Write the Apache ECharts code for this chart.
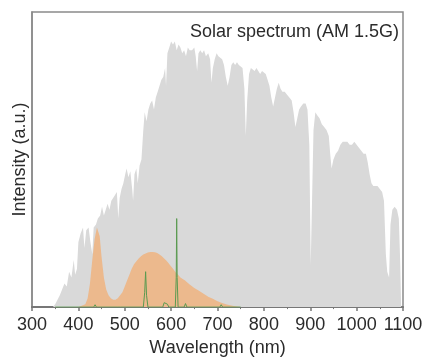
<!DOCTYPE html>
<html>
<head>
<meta charset="utf-8">
<script src="https://cdn.jsdelivr.net/npm/echarts@6/dist/echarts.min.js"></script>
<style>
  html, body { margin: 0; padding: 0; background: #fff; }
  #chart { width: 426px; height: 362px; }
</style>
</head>
<body>
<div id="chart"></div>
<script>
// x axis ticks
const xMin = 300;
const xMax = 1100;
const xStep = 100;

// AM 1.5G solar spectrum (nm, a.u.)
const solarWl = [
  300, 345, 350, 360, 370, 375, 380, 385, 390, 393, 397, 400, 405, 410, 413, 417, 422, 426, 430, 433,
  438, 442, 447, 451, 455, 459, 463, 467, 471, 475, 479, 483, 486, 489, 493, 497, 501, 504, 508, 512,
  516, 518, 521, 525, 528, 532, 536, 540, 543, 547, 551, 555, 559, 563, 567, 571, 575, 579, 583, 587,
  589, 592, 596, 600, 604, 608, 612, 616, 620, 624, 628, 632, 636, 640, 645, 650, 653, 656, 659, 663,
  667, 671, 675, 680, 684, 687, 690, 694, 698, 702, 706, 710, 714, 718, 722, 726, 730, 734, 738, 742,
  746, 750, 754, 758, 761, 764, 768, 772, 776, 780, 784, 788, 792, 796, 800, 804, 808, 812, 816, 820,
  824, 828, 832, 836, 840, 845, 850, 855, 860, 864, 868, 872, 876, 880, 885, 890, 894, 898, 901, 904,
  907, 911, 915, 920, 925, 930, 935, 940, 943, 946, 950, 955, 960, 965, 970, 975, 980, 985, 990, 995,
  1000, 1005, 1010, 1015, 1020, 1024, 1028, 1032, 1036, 1040, 1045, 1050, 1055, 1059, 1063, 1066, 1070, 1073, 1077, 1082,
  1087, 1091, 1094, 1096, 1100
];
const solarVal = [
  0, 0, 0.01, 0.04, 0.08, 0.07, 0.12, 0.10, 0.16, 0.11, 0.13, 0.22, 0.25, 0.27, 0.20, 0.26, 0.27, 0.22, 0.18, 0.27,
  0.28, 0.30, 0.31, 0.34, 0.31, 0.33, 0.35, 0.33, 0.36, 0.37, 0.38, 0.39, 0.30, 0.37, 0.40, 0.42, 0.45, 0.47, 0.44, 0.46,
  0.40, 0.36, 0.45, 0.47, 0.42, 0.48, 0.50, 0.60, 0.66, 0.63, 0.67, 0.69, 0.70, 0.67, 0.71, 0.73, 0.75, 0.77, 0.78, 0.81,
  0.75, 0.86, 0.88, 0.90, 0.89, 0.90, 0.87, 0.89, 0.88, 0.86, 0.87, 0.85, 0.88, 0.87, 0.87, 0.88, 0.85, 0.80, 0.86, 0.87,
  0.86, 0.87, 0.85, 0.86, 0.84, 0.76, 0.81, 0.84, 0.86, 0.85, 0.85, 0.84, 0.82, 0.78, 0.75, 0.78, 0.82, 0.83, 0.82, 0.83,
  0.82, 0.82, 0.81, 0.74, 0.58, 0.70, 0.79, 0.81, 0.81, 0.80, 0.81, 0.80, 0.79, 0.80, 0.80, 0.79, 0.77, 0.75, 0.71, 0.68,
  0.71, 0.74, 0.76, 0.74, 0.73, 0.73, 0.72, 0.71, 0.70, 0.66, 0.61, 0.64, 0.67, 0.68, 0.69, 0.69, 0.67, 0.55, 0.14, 0.14,
  0.60, 0.66, 0.65, 0.64, 0.62, 0.61, 0.60, 0.58, 0.52, 0.47, 0.50, 0.52, 0.53, 0.55, 0.56, 0.56, 0.56, 0.55, 0.55, 0.56,
  0.55, 0.54, 0.53, 0.52, 0.52, 0.49, 0.45, 0.42, 0.41, 0.41, 0.41, 0.40, 0.39, 0.36, 0.18, 0.12, 0.10, 0.28, 0.33, 0.34,
  0.33, 0.30, 0.15, 0, 0
];

// white LED: blue chip peak + phosphor hump
const ledWl = [
  350, 400, 415, 420, 425, 430, 435, 440, 443, 446, 450, 455, 460, 465, 470, 475, 480, 485, 490, 495,
  500, 505, 510, 515, 520, 525, 530, 535, 540, 545, 550, 555, 560, 565, 570, 575, 580, 585, 590, 595,
  600, 605, 610, 615, 620, 630, 640, 650, 660, 670, 680, 690, 700, 710, 720, 735, 750
];
const ledVal = [
  0, 0, 0.01, 0.03, 0.08, 0.16, 0.23, 0.27, 0.27, 0.24, 0.17, 0.10, 0.06, 0.04, 0.03, 0.025, 0.025, 0.03, 0.04, 0.05,
  0.07, 0.09, 0.11, 0.13, 0.145, 0.155, 0.165, 0.172, 0.178, 0.182, 0.185, 0.187, 0.187, 0.186, 0.183, 0.178, 0.172, 0.165, 0.157, 0.148,
  0.138, 0.128, 0.117, 0.11, 0.10, 0.09, 0.077, 0.065, 0.055, 0.045, 0.035, 0.028, 0.02, 0.014, 0.009, 0.004, 0
];

// CFL: narrow emission lines
const cflWl = [
  350, 433, 436, 439, 485, 488, 491, 540, 543, 545, 547, 550, 582, 585, 588, 592, 595,
  609, 611, 612, 613, 615, 628, 631, 634, 705, 708, 711, 750
];
const cflVal = [
  0, 0, 0.008, 0, 0, 0.006, 0, 0, 0.05, 0.12, 0.04, 0, 0, 0.015, 0.02, 0.01, 0,
  0, 0.1, 0.30, 0.1, 0, 0, 0.012, 0, 0, 0.008, 0, 0
];

const pairs = (xs, ys) => xs.map((x, i) => [x, ys[i]]);

const chart = echarts.init(document.getElementById("chart"));

const font = "Liberation Sans, Arial, sans-serif";

const option = {
  animation: false,
  grid: {
    left: 32,
    right: 23,
    top: 12,
    bottom: 50,
    show: true,
    borderColor: "#8a8a8a",
    borderWidth: 1.5,
  },
  xAxis: {
    type: "value",
    min: xMin,
    max: xMax,
    interval: xStep,
    name: "Wavelength (nm)",
    nameLocation: "middle",
    nameGap: 28,
    nameTextStyle: { color: "#2b2b2b", fontSize: 18, fontFamily: font },
    axisLine: { lineStyle: { color: "#777", width: 2 } },
    axisTick: { length: 4, lineStyle: { color: "#777", width: 1.5 } },
    minorTick: { show: true, splitNumber: 2, length: 2, lineStyle: { color: "#777" } },
    axisLabel: {
      color: "#2b2b2b",
      fontSize: 18,
      fontFamily: font,
      margin: 9,
      formatter: (v) => String(v),
    },
    splitLine: { show: false },
  },
  yAxis: {
    type: "value",
    min: 0,
    max: 1,
    name: "Intensity (a.u.)",
    nameLocation: "middle",
    nameGap: 3,
    nameTextStyle: { color: "#2b2b2b", fontSize: 18, fontFamily: font },
    axisLine: { show: true, lineStyle: { color: "#8a8a8a", width: 1.5 } },
    axisTick: { show: false },
    axisLabel: { show: false },
    splitLine: { show: false },
  },
  series: [
    {
      name: "Solar spectrum (AM 1.5G)",
      type: "line",
      data: pairs(solarWl, solarVal),
      showSymbol: false,
      lineStyle: { width: 0 },
      areaStyle: { color: "#d9d9d9", opacity: 1 },
      z: 1,
    },
    {
      name: "White LED",
      type: "line",
      data: pairs(ledWl, ledVal),
      showSymbol: false,
      lineStyle: { width: 0 },
      areaStyle: { color: "#f8a35a", opacity: 0.6 },
      z: 2,
    },
    {
      name: "CFL",
      type: "line",
      data: pairs(cflWl, cflVal),
      showSymbol: false,
      lineStyle: { color: "#5a9a50", width: 1 },
      z: 3,
    },
  ],
  graphic: [
    {
      type: "text",
      x: 399,
      y: 32,
      style: {
        text: "Solar spectrum (AM 1.5G)",
        fill: "#2b2b2b",
        font: "18px " + font,
        textAlign: "right",
        textVerticalAlign: "middle",
      },
    },
    {
      type: "text",
      x: 181,
      y: 223,
      style: {
        text: "CFL",
        fill: "#3d9a45",
        font: "bold 18px " + font,
        textAlign: "left",
        textVerticalAlign: "middle",
      },
    },
    {
      type: "text",
      x: 218,
      y: 294,
      style: {
        text: "White LED",
        fill: "#f4a55a",
        font: "18px " + font,
        textAlign: "left",
        textVerticalAlign: "middle",
      },
    },
  ],
};

chart.setOption(option);
</script>
</body>
</html>
